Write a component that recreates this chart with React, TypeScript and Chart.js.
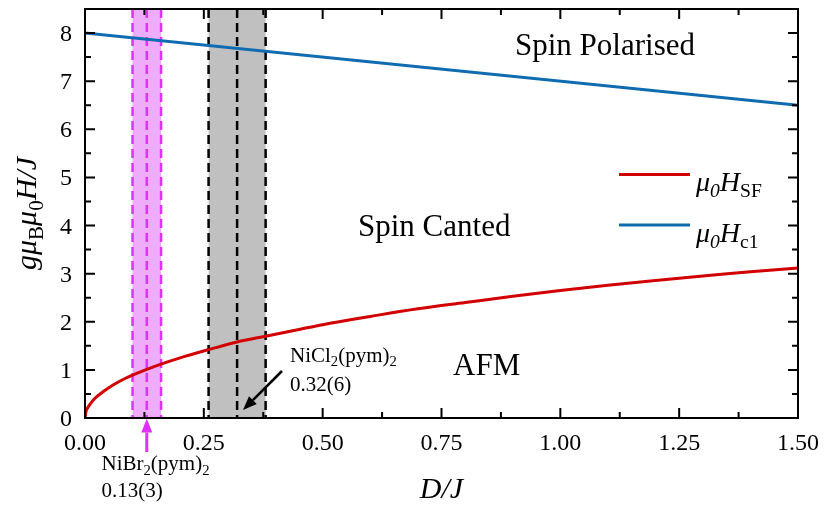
import React, { useEffect, useRef } from "react";
import { Chart, registerables } from "chart.js";

Chart.register(...registerables);

// ---- data ----
const sfD = [0, 0.002, 0.005, 0.01, 0.02, 0.04, 0.06, 0.08, 0.1, 0.13, 0.16, 0.2, 0.26, 0.32, 0.38, 0.45, 0.5, 0.6, 0.7, 0.8, 0.9, 1.0, 1.1, 1.2, 1.3, 1.4, 1.5];
const sfH = [0, 0.13, 0.2, 0.28, 0.4, 0.56, 0.69, 0.8, 0.89, 1.01, 1.12, 1.25, 1.42, 1.58, 1.7, 1.84, 1.94, 2.11, 2.27, 2.4, 2.53, 2.65, 2.76, 2.86, 2.95, 3.04, 3.12];
const c1D = [0, 1.5];
const c1H = [8, 6.5];
const nibrD = [0.1, 0.13, 0.16]; // 0.13(3)
const niclD = [0.26, 0.32, 0.38]; // 0.32(6)
const xTicks = [0, 0.25, 0.5, 0.75, 1.0, 1.25, 1.5];
const xTickLabels = ["0.00", "0.25", "0.50", "0.75", "1.00", "1.25", "1.50"];
const yTicks = [0, 1, 2, 3, 4, 5, 6, 7, 8];
const yTickLabels = ["0", "1", "2", "3", "4", "5", "6", "7", "8"];
const xMinor = [0.125, 0.375, 0.625, 0.875, 1.125, 1.375];
const yMinor = [0.5, 1.5, 2.5, 3.5, 4.5, 5.5, 6.5, 7.5];

const RED = "rgb(210,0,0)";
const BLUE = "rgb(16,108,176)";
const MAG_FILL = "rgb(238,172,250)";
const MAG_LINE = "rgb(220,50,250)";
const GRAY_FILL = "rgb(192,192,192)";
const FONT = "Liberation Serif";

type Run = { t: string; it?: boolean; sub?: boolean };

function runFont(r: Run, size: number) {
  const s = r.sub ? size * 0.7 : size;
  return `${r.it ? "italic " : ""}${s}px "${FONT}"`;
}

function richWidth(ctx: CanvasRenderingContext2D, runs: Run[], size: number) {
  let w = 0;
  for (const r of runs) {
    ctx.font = runFont(r, size);
    w += ctx.measureText(r.t).width;
  }
  return w;
}

function drawRich(ctx: CanvasRenderingContext2D, x: number, y: number, runs: Run[], size: number, color = "#000") {
  ctx.fillStyle = color;
  ctx.textBaseline = "alphabetic";
  ctx.textAlign = "left";
  let cx = x;
  for (const r of runs) {
    ctx.font = runFont(r, size);
    ctx.fillText(r.t, cx, r.sub ? y + size * 0.22 : y);
    cx += ctx.measureText(r.t).width;
  }
}

function arrow(ctx: CanvasRenderingContext2D, x1: number, y1: number, x2: number, y2: number, color: string, w: number, hl: number, hw: number) {
  const ang = Math.atan2(y2 - y1, x2 - x1);
  const bx = x2 - hl * Math.cos(ang);
  const by = y2 - hl * Math.sin(ang);
  ctx.strokeStyle = color;
  ctx.fillStyle = color;
  ctx.lineWidth = w;
  ctx.setLineDash([]);
  ctx.beginPath();
  ctx.moveTo(x1, y1);
  ctx.lineTo(bx, by);
  ctx.stroke();
  ctx.beginPath();
  ctx.moveTo(x2, y2);
  ctx.lineTo(bx + (hw / 2) * Math.sin(ang), by - (hw / 2) * Math.cos(ang));
  ctx.lineTo(bx - (hw / 2) * Math.sin(ang), by + (hw / 2) * Math.cos(ang));
  ctx.closePath();
  ctx.fill();
}

const decor = {
  id: "decor",
  beforeDatasetsDraw(chart: any) {
    const { ctx, chartArea: a, scales } = chart;
    const x = scales.x;
    ctx.save();
    const band = (d: number[], fill: string, dash: string) => {
      const l = x.getPixelForValue(d[0]);
      const r = x.getPixelForValue(d[2]);
      ctx.fillStyle = fill;
      ctx.fillRect(l, a.top, r - l, a.bottom - a.top);
      ctx.strokeStyle = dash;
      ctx.lineWidth = 2.5;
      ctx.setLineDash([9, 5]);
      for (const v of d) {
        const px = x.getPixelForValue(v);
        ctx.beginPath();
        ctx.moveTo(px, a.top);
        ctx.lineTo(px, a.bottom);
        ctx.stroke();
      }
    };
    band(nibrD, MAG_FILL, MAG_LINE);
    band(niclD, GRAY_FILL, "#000");
    ctx.restore();
  },
  afterDatasetsDraw(chart: any) {
    const { ctx, chartArea: a, scales } = chart;
    const x = scales.x;
    const y = scales.y;
    ctx.save();
    ctx.strokeStyle = "#000";
    ctx.lineWidth = 2;
    ctx.setLineDash([]);
    const major = 10;
    const minor = 6;
    ctx.beginPath();
    for (const v of xTicks) {
      const p = x.getPixelForValue(v);
      ctx.moveTo(p, a.bottom); ctx.lineTo(p, a.bottom - major);
      ctx.moveTo(p, a.top); ctx.lineTo(p, a.top + major);
    }
    for (const v of xMinor) {
      const p = x.getPixelForValue(v);
      ctx.moveTo(p, a.bottom); ctx.lineTo(p, a.bottom - minor);
      ctx.moveTo(p, a.top); ctx.lineTo(p, a.top + minor);
    }
    for (const v of yTicks) {
      const p = y.getPixelForValue(v);
      ctx.moveTo(a.left, p); ctx.lineTo(a.left + major, p);
      ctx.moveTo(a.right, p); ctx.lineTo(a.right - major, p);
    }
    for (const v of yMinor) {
      const p = y.getPixelForValue(v);
      ctx.moveTo(a.left, p); ctx.lineTo(a.left + minor, p);
      ctx.moveTo(a.right, p); ctx.lineTo(a.right - minor, p);
    }
    ctx.stroke();
    ctx.strokeRect(a.left, a.top, a.right - a.left, a.bottom - a.top);

    // tick labels
    ctx.fillStyle = "#000";
    ctx.font = `24px "${FONT}"`;
    ctx.textBaseline = "alphabetic";
    ctx.textAlign = "center";
    xTicks.forEach((v, i) => {
      ctx.fillText(xTickLabels[i], x.getPixelForValue(v), a.bottom + 32);
    });
    ctx.textAlign = "right";
    yTicks.forEach((v, i) => {
      ctx.fillText(yTickLabels[i], a.left - 13, y.getPixelForValue(v) + 8);
    });
    ctx.restore();
  },
  afterDraw(chart: any) {
    const { ctx, chartArea: a, scales } = chart;
    const x = scales.x;
    ctx.save();
    // region labels
    drawRich(ctx, 515, 55, [{ t: "Spin Polarised" }], 31);
    drawRich(ctx, 358, 236, [{ t: "Spin Canted" }], 31);
    drawRich(ctx, 453, 375, [{ t: "AFM" }], 31);

    // legend
    ctx.lineWidth = 3;
    ctx.strokeStyle = RED;
    ctx.beginPath(); ctx.moveTo(619, 174.5); ctx.lineTo(690, 174.5); ctx.stroke();
    ctx.strokeStyle = BLUE;
    ctx.beginPath(); ctx.moveTo(619, 225); ctx.lineTo(690, 225); ctx.stroke();
    drawRich(ctx, 696, 190.5, [{ t: "μ", it: true }, { t: "0", it: true, sub: true }, { t: "H", it: true }, { t: "SF", sub: true }], 28);
    drawRich(ctx, 696, 241.5, [{ t: "μ", it: true }, { t: "0", it: true, sub: true }, { t: "H", it: true }, { t: "c1", sub: true }], 28);

    // sample annotations
    drawRich(ctx, 290, 361.5, [{ t: "NiCl" }, { t: "2", sub: true }, { t: "(pym)" }, { t: "2", sub: true }], 21);
    drawRich(ctx, 290, 391, [{ t: "0.32(6)" }], 21);
    arrow(ctx, 282, 371, 243, 410, "#000", 2.5, 14, 11);

    drawRich(ctx, 101.5, 470, [{ t: "NiBr" }, { t: "2", sub: true }, { t: "(pym)" }, { t: "2", sub: true }], 21);
    drawRich(ctx, 101.5, 497, [{ t: "0.13(3)" }], 21);
    const mx = x.getPixelForValue(nibrD[1]);
    arrow(ctx, mx, 452, mx, a.bottom + 0.5, MAG_LINE, 3, 14, 11);

    // axis titles
    const xt: Run[] = [{ t: "D/J", it: true }];
    const xw = richWidth(ctx, xt, 30);
    drawRich(ctx, (a.left + a.right) / 2 - xw / 2, 498, xt, 30);

    const yt: Run[] = [
      { t: "gμ", it: true },
      { t: "B", sub: true },
      { t: "μ", it: true },
      { t: "0", sub: true },
      { t: "H/J", it: true },
    ];
    const yw = richWidth(ctx, yt, 30);
    ctx.translate(36, (a.top + a.bottom) / 2 + 0);
    ctx.rotate(-Math.PI / 2);
    drawRich(ctx, -yw / 2, 0, yt, 30);
    ctx.restore();
  },
};

export default function App() {
  const ref = useRef<HTMLCanvasElement>(null);
  useEffect(() => {
    const chart = new Chart(ref.current as HTMLCanvasElement, {
      type: "line",
      data: {
        datasets: [
          {
            label: "μ0H_SF",
            data: sfD.map((d, i) => ({ x: d, y: sfH[i] })),
            borderColor: RED,
            borderWidth: 3,
            pointRadius: 0,
            cubicInterpolationMode: "monotone",
            fill: false,
          },
          {
            label: "μ0H_c1",
            data: c1D.map((d, i) => ({ x: d, y: c1H[i] })),
            borderColor: BLUE,
            borderWidth: 3,
            pointRadius: 0,
            fill: false,
          },
        ],
      },
      options: {
        responsive: false,
        animation: false,
        devicePixelRatio: 1,
        layout: { padding: { top: 9, right: 32, left: 0, bottom: 0 } },
        plugins: { legend: { display: false }, tooltip: { enabled: false }, title: { display: false } },
        scales: {
          x: {
            type: "linear",
            min: 0,
            max: 1.5,
            grid: { display: false, drawTicks: false },
            border: { display: false },
            ticks: { display: false, stepSize: 0.25 },
            afterFit: (s: any) => {
              s.height = 94;
              s.paddingLeft = 0;
              s.paddingRight = 0;
            },
          },
          y: {
            type: "linear",
            min: 0,
            max: 8.5,
            grid: { display: false, drawTicks: false },
            border: { display: false },
            ticks: { display: false, stepSize: 1 },
            afterFit: (s: any) => {
              s.width = 85;
              s.paddingTop = 0;
              s.paddingBottom = 0;
            },
          },
        },
      },
      plugins: [decor],
    } as any);
    return () => chart.destroy();
  }, []);
  return (
    <div style={{ position: "absolute", left: 0, top: 0, width: 830, height: 512, background: "#fff" }}>
      <canvas ref={ref} width={830} height={512} style={{ width: 830, height: 512, display: "block" }} />
    </div>
  );
}
